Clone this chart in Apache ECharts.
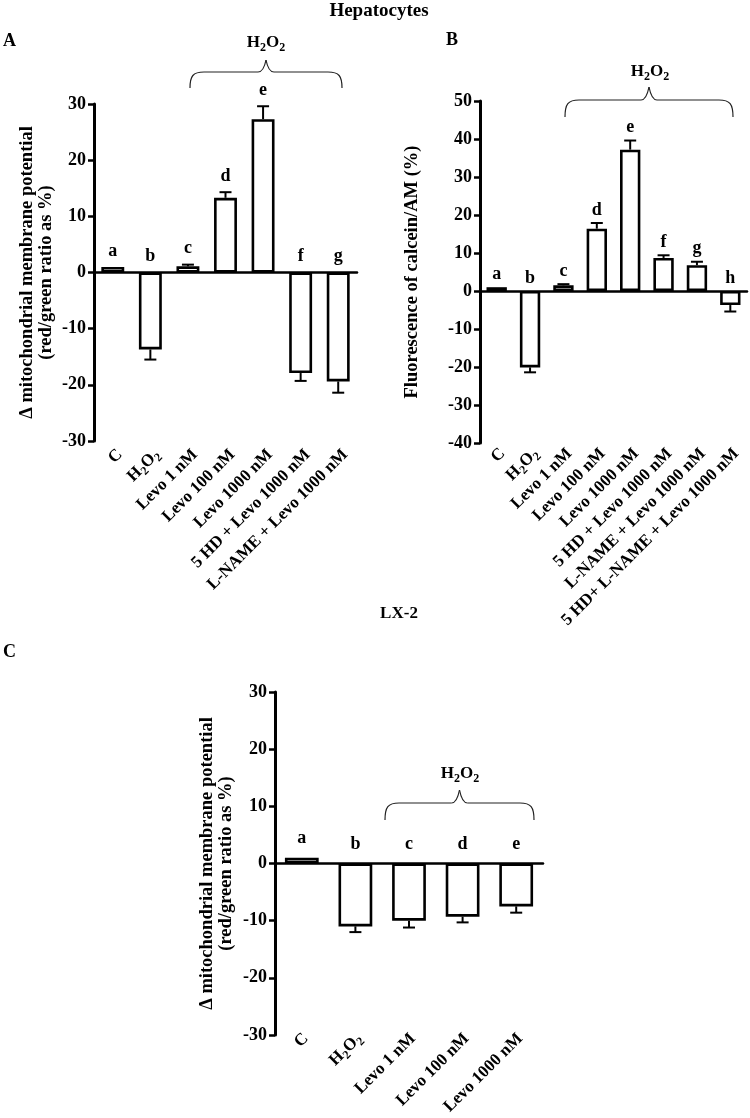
<!DOCTYPE html>
<html><head><meta charset="utf-8">
<script src="https://cdn.jsdelivr.net/npm/echarts@6/dist/echarts.min.js"></script>
<style>html,body{margin:0;padding:0;background:#fff}#c{width:750px;height:1118px}</style>
</head><body><div id="c"></div>
<script>
// ---------- data ----------
const catsA = ['C','H2O2','Levo 1 nM','Levo 100 nM','Levo 1000 nM','5 HD + Levo 1000 nM','L-NAME + Levo 1000 nM'];
const valsA = [1.0,-13.7,1.1,13.3,27.3,-17.9,-19.4];
const errA  = [0,1.8,0.3,1.0,2.3,1.4,2.0];
const letA  = ['a','b','c','d','e','f','g'];
const ticksA = [-30,-20,-10,0,10,20,30];

const catsB = ['C','H2O2','Levo 1 nM','Levo 100 nM','Levo 1000 nM','5 HD + Levo 1000 nM','L-NAME + Levo 1000 nM','5 HD+ L-NAME + Levo 1000 nM'];
const valsB = [1.0,-20.1,1.5,16.4,37.2,8.7,6.8,-3.7];
const errB  = [0,1.3,0.3,1.5,2.4,0.7,0.9,1.7];
const letB  = ['a','b','c','d','e','f','g','h'];
const ticksB = [-40,-30,-20,-10,0,10,20,30,40,50];

const catsC = ['C','H2O2','Levo 1 nM','Levo 100 nM','Levo 1000 nM'];
const valsC = [1.0,-11.0,-10.0,-9.3,-7.5];
const errC  = [0,1.0,1.2,1.0,1.1];
const letC  = ['a','b','c','d','e'];
const ticksC = [-30,-20,-10,0,10,20,30];

const titleMain = 'Hepatocytes';
const titleLX = 'LX-2';
const yNameA = '\u0394 mitochondrial membrane potential\n(red/green ratio as %)';
const yNameB = 'Fluorescence of calcein/AM (%)';
const yNameC = '\u0394 mitochondrial membrane potential\n(red/green ratio as %)';
const braceText = 'H2O2';

// ---------- style ----------
const FF = '"Liberation Serif","Times New Roman",serif';
const RICH = {
  t: {fontFamily: FF, fontWeight: 'bold', fontSize: 17, color: '#000', lineHeight: 22},
  s: {fontFamily: FF, fontWeight: 'bold', fontSize: 12, color: '#000', lineHeight: 12, verticalAlign: 'bottom'}
};
function fmt(s) {
  if (s === 'H2O2') return '{t|H}{s|2}{t|O}{s|2}';
  return '{t|' + s + '}';
}

function axes(gi, cats, ticks, name, nameGap) {
  const x0 = {
    gridIndex: gi, type: 'category', data: cats,
    axisLine: {onZero: true, lineStyle: {color: '#000', width: 2.5}},
    axisTick: {show: false}, axisLabel: {show: false}, splitLine: {show: false}
  };
  const y = {
    gridIndex: gi, type: 'value',
    min: ticks[0], max: ticks[ticks.length - 1], interval: ticks[1] - ticks[0],
    axisLine: {show: true, lineStyle: {color: '#000', width: 3}},
    axisTick: {show: true, length: 6, lineStyle: {color: '#000', width: 2.5}},
    axisLabel: {color: '#000', fontFamily: FF, fontWeight: 'bold', fontSize: 18, margin: 8},
    splitLine: {show: false},
    name: name, nameLocation: 'middle', nameRotate: 90, nameGap: nameGap,
    nameTextStyle: {color: '#000', fontFamily: FF, fontWeight: 'bold', fontSize: 18.5, lineHeight: 19, align: 'center'}
  };
  return {x: x0, y: y};
}

function barSeries(gi, vals, bw) {
  return {
    type: 'bar', xAxisIndex: gi, yAxisIndex: gi, data: vals, barWidth: bw,
    itemStyle: {color: '#fff', borderColor: '#000', borderWidth: 2.6},
    silent: true, animation: false, z: 2
  };
}

function errSeries(gi, vals, errs, lets, off) {
  return {
    type: 'custom', xAxisIndex: gi, yAxisIndex: gi, clip: false, silent: true, animation: false, z: 5,
    data: vals.map((v, i) => [i, v, errs[i]]),
    renderItem(params, api) {
      const i = api.value(0), v = api.value(1), e = api.value(2);
      const end = v >= 0 ? v + e : v - e;
      const p0 = api.coord([i, v]), p1 = api.coord([i, end]);
      const top = api.coord([i, v >= 0 ? v + e : 0]);
      const ch = [];
      if (e > 0) {
        ch.push({type: 'line', shape: {x1: p0[0], y1: p0[1], x2: p1[0], y2: p1[1]}, style: {stroke: '#000', lineWidth: 2}});
        ch.push({type: 'line', shape: {x1: p1[0] - 6, y1: p1[1], x2: p1[0] + 6, y2: p1[1]}, style: {stroke: '#000', lineWidth: 2}});
      }
      ch.push({type: 'text', x: top[0], y: top[1] - off,
        style: {text: lets[params.dataIndex], fill: '#000', fontFamily: FF, fontWeight: 'bold', fontSize: 18, align: 'center', verticalAlign: 'middle'}});
      return {type: 'group', children: ch};
    }
  };
}

function labelSeries(gi, cats, ymin, dx, dy) {
  return {
    type: 'custom', xAxisIndex: gi, yAxisIndex: gi, clip: false, silent: true, animation: false, z: 5,
    data: cats.map((c, i) => [i, ymin]),
    renderItem(params, api) {
      const p = api.coord([api.value(0), ymin]);
      return {type: 'text', x: p[0] + dx, y: p[1] + dy, rotation: Math.PI / 4,
        style: {text: fmt(cats[params.dataIndex]), rich: RICH, fill: '#000', fontFamily: FF, fontWeight: 'bold', fontSize: 17,
          align: 'right', verticalAlign: 'middle'}};
    }
  };
}

function brace(x1, x2, yt, yb, yp) {
  const xm = (x1 + x2) / 2, r = 14, st = {stroke: '#222', lineWidth: 1.2, fill: null};
  return [
    {type: 'bezierCurve', shape: {x1: x1, y1: yb, cpx1: x1, cpy1: yt + 4, cpx2: x1 + 3, cpy2: yt, x2: x1 + r, y2: yt}, style: st},
    {type: 'line', shape: {x1: x1 + r, y1: yt, x2: xm - 8, y2: yt}, style: st},
    {type: 'bezierCurve', shape: {x1: xm - 8, y1: yt, cpx1: xm - 3, cpy1: yt, cpx2: xm - 1, cpy2: yp + 5, x2: xm, y2: yp}, style: st},
    {type: 'bezierCurve', shape: {x1: xm, y1: yp, cpx1: xm + 1, cpy1: yp + 5, cpx2: xm + 3, cpy2: yt, x2: xm + 8, y2: yt}, style: st},
    {type: 'line', shape: {x1: xm + 8, y1: yt, x2: x2 - r, y2: yt}, style: st},
    {type: 'bezierCurve', shape: {x1: x2 - r, y1: yt, cpx1: x2 - 3, cpy1: yt, cpx2: x2, cpy2: yt + 4, x2: x2, y2: yb}, style: st}
  ];
}
function richText(x, y, s, size) {
  return {type: 'text', x: x, y: y, style: {text: fmt(s), rich: RICH, fill: '#000', fontFamily: FF, fontWeight: 'bold',
    fontSize: size || 17, align: 'center', verticalAlign: 'middle'}};
}
function plainText(x, y, s, size, align) {
  return {type: 'text', x: x, y: y, style: {text: s, fill: '#000', fontFamily: FF, fontWeight: 'bold',
    fontSize: size, align: align || 'center', verticalAlign: 'middle'}};
}

const aA = axes(0, catsA, ticksA, yNameA, 38);
const aB = axes(1, catsB, ticksB, yNameB, 58);
const aC = axes(2, catsC, ticksC, yNameC, 39);

const chart = echarts.init(document.getElementById('c'), null, {renderer: 'canvas'});
chart.setOption({
  animation: false,
  backgroundColor: '#fff',
  grid: [
    {left: 94, top: 104, width: 263, height: 337},
    {left: 480, top: 101, width: 267, height: 342},
    {left: 275, top: 692, width: 268, height: 343}
  ],
  xAxis: [aA.x, aB.x, aC.x],
  yAxis: [aA.y, aB.y, aC.y],
  series: [
    barSeries(0, valsA, '61%'), errSeries(0, valsA, errA, letA, 16), labelSeries(0, catsA, ticksA[0], 7, 11),
    barSeries(1, valsB, '61%'), errSeries(1, valsB, errB, letB, 13), labelSeries(1, catsB, ticksB[0], 6, 8),
    barSeries(2, valsC, '63%'), errSeries(2, valsC, errC, letC, 19), labelSeries(2, catsC, ticksC[0], 4, 1)
  ],
  graphic: [].concat(
    [plainText(379, 11, titleMain, 19),
     plainText(3, 41, 'A', 18, 'left'),
     plainText(446, 40, 'B', 18, 'left'),
     plainText(3, 652, 'C', 18, 'left'),
     plainText(399, 614, titleLX, 17),
     richText(266, 43, braceText),
     richText(650, 72, braceText),
     richText(460, 774, braceText)],
    brace(190, 342, 72, 88, 60),
    brace(565, 733, 100, 117, 87),
    brace(385, 534, 803, 820, 790)
  )
});
</script></body></html>
